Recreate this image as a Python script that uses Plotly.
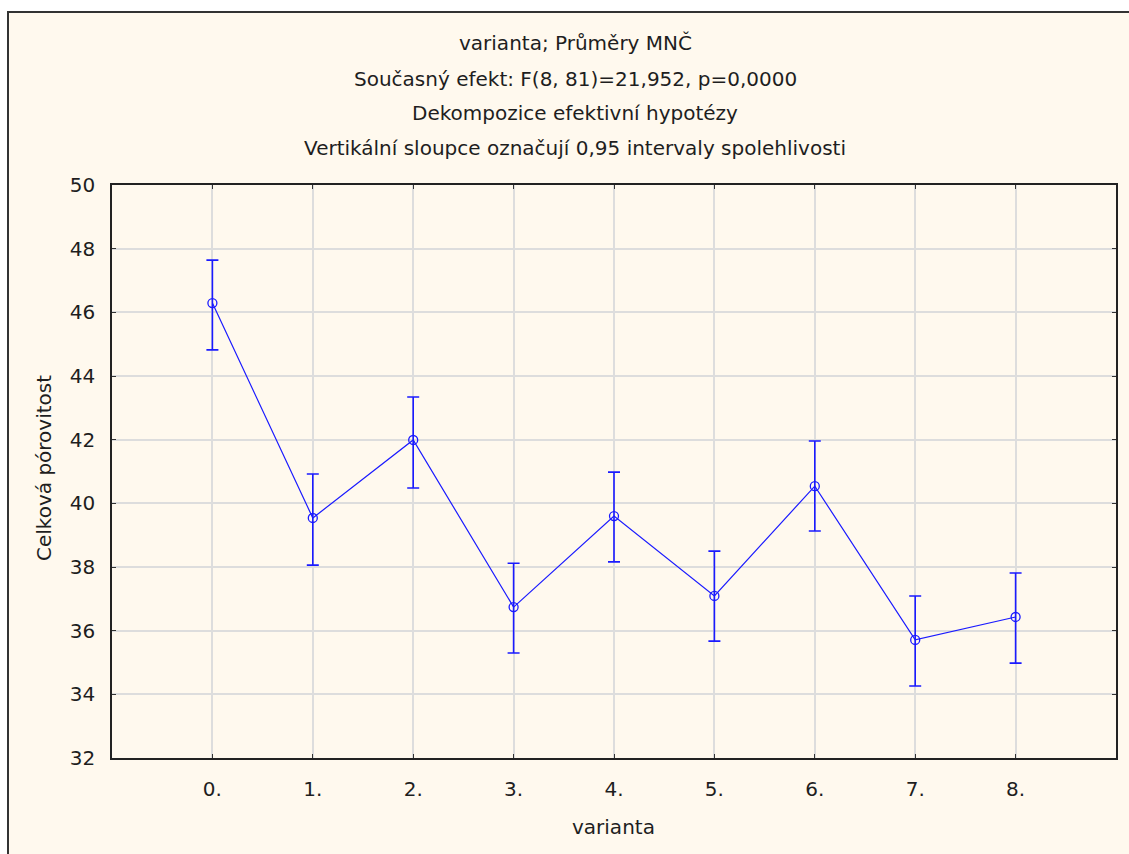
import plotly.graph_objects as go

categories = ["0.", "1.", "2.", "3.", "4.", "5.", "6.", "7.", "8."]
means = [46.29, 39.54, 41.99, 36.74, 39.60, 37.09, 40.54, 35.71, 36.43]
upper = [47.64, 40.92, 43.34, 38.12, 40.98, 38.50, 41.96, 37.09, 37.81]
lower = [44.82, 38.06, 40.48, 35.30, 38.16, 35.67, 39.13, 34.26, 34.98]
y_ticks = [32, 34, 36, 38, 40, 42, 44, 46, 48, 50]
title_lines = [
    "varianta; Průměry MNČ",
    "Současný efekt: F(8, 81)=21,952, p=0,0000",
    "Dekompozice efektivní hypotézy",
    "Vertikální sloupce označují 0,95 intervaly spolehlivosti",
]
x_title = "varianta"
y_title = "Celková pórovitost"

W, H = 1129, 854
L, R, T, B = 112, 13, 185, 96
pw, ph = W - L - R, H - T - B


def px_x(px):
    return (px - L) / pw


def px_y(py):
    return (H - B - py) / ph


xs = list(range(len(categories)))
blue = "#1a1aff"
font = "DejaVu Sans, Liberation Sans, Arial, sans-serif"
fsize = 20
tcol = "#1e1e1e"

fig = go.Figure()
fig.add_trace(go.Scatter(
    x=xs, y=means, mode="lines+markers",
    line=dict(color=blue, width=1.2),
    marker=dict(symbol="circle-open", size=9, color=blue, line=dict(width=1.3, color=blue)),
    error_y=dict(type="data", symmetric=False,
                 array=[u - m for u, m in zip(upper, means)],
                 arrayminus=[m - l for m, l in zip(means, lower)],
                 color=blue, thickness=1.6, width=6),
    showlegend=False, hoverinfo="x+y",
))

annotations = []
title_y = [43, 79, 113, 148]
for txt, yy in zip(title_lines, title_y):
    annotations.append(dict(text=txt, x=px_x(575), y=px_y(yy), xref="paper", yref="paper",
                            showarrow=False, xanchor="center", yanchor="middle",
                            font=dict(family=font, size=fsize, color=tcol)))
annotations.append(dict(text=x_title, x=px_x(613), y=px_y(827), xref="paper", yref="paper",
                        showarrow=False, xanchor="center", yanchor="middle",
                        font=dict(family=font, size=fsize, color=tcol)))
annotations.append(dict(text=y_title, x=px_x(44), y=px_y(468), xref="paper", yref="paper",
                        showarrow=False, xanchor="center", yanchor="middle", textangle=-90,
                        font=dict(family=font, size=fsize, color=tcol)))

fig.update_layout(
    width=W, height=H,
    margin=dict(l=L, r=R, t=T, b=B, pad=0),
    paper_bgcolor="white",
    plot_bgcolor="white",
    font=dict(family=font, size=fsize, color=tcol),
    annotations=annotations,
    shapes=[dict(type="rect", xref="paper", yref="paper", layer="below",
                 x0=px_x(8), x1=px_x(1140), y0=px_y(870), y1=px_y(12),
                 fillcolor="#fff9ee", line=dict(color="#333333", width=2))],
    xaxis=dict(range=[-1, 9], tickvals=xs, ticktext=categories,
               showgrid=True, gridcolor="#dddddd", gridwidth=1.5,
               showline=True, linecolor="#222222", linewidth=1.5, mirror="ticks",
               ticks="inside", ticklen=4, tickcolor="#333333",
               zeroline=False, ticklabelstandoff=12,
               tickfont=dict(family=font, size=fsize, color=tcol)),
    yaxis=dict(range=[32, 50], tickvals=y_ticks,
               showgrid=True, gridcolor="#dddddd", gridwidth=1.5,
               showline=True, linecolor="#222222", linewidth=1.5, mirror="ticks",
               ticks="inside", ticklen=4, tickcolor="#333333",
               zeroline=False, ticklabelstandoff=11,
               tickfont=dict(family=font, size=fsize, color=tcol)),
)

fig.write_html("out.html",
               config={"displayModeBar": False},
               post_script="document.body.style.margin='0';document.body.style.overflow='hidden';")
